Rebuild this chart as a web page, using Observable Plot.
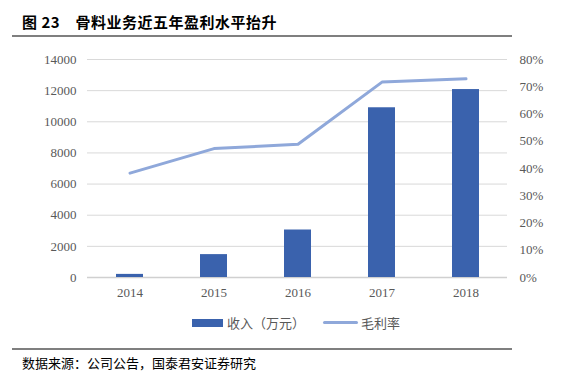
<!DOCTYPE html>
<html><head><meta charset="utf-8">
<script src="https://cdn.jsdelivr.net/npm/d3@7"></script>
<script src="https://cdn.jsdelivr.net/npm/@observablehq/plot@0.6"></script>
<style>
body{margin:0;background:#fff;width:585px;height:377px;position:relative;overflow:hidden;font-family:"Noto Sans CJK SC",sans-serif;}
#title{position:absolute;left:22px;top:11px;font-size:15px;font-weight:bold;color:#000;letter-spacing:0.5px;}
#tline{position:absolute;left:12px;top:35px;width:500px;height:2px;background:#7f7f7f;}
#chart{position:absolute;left:0;top:40px;}
#legend{position:absolute;top:313px;left:0;width:585px;font-size:13px;color:#595959;}
.sw{position:absolute;}
#fline{position:absolute;left:12px;top:348px;width:500px;height:2px;background:#7f7f7f;}
#foot{position:absolute;left:22px;top:353px;font-size:13px;color:#000;}
</style></head><body>
<div id="title">图 23　骨料业务近五年盈利水平抬升</div>
<div id="tline"></div>
<div id="chart"></div>
<div id="legend">
  <div class="sw" style="left:192px;top:6px;width:31px;height:8px;background:#3a62ad"></div>
  <div class="sw" style="left:227px;top:0px">收入（万元）</div>
  <div class="sw" style="left:323px;top:8px;width:35px;height:3px;border-radius:2px;background:#8fa8da"></div>
  <div class="sw" style="left:361px;top:0px">毛利率</div>
</div>
<div id="fline"></div>
<div id="foot">数据来源：公司公告，国泰君安证券研究</div>
<script>
const years = ["2014","2015","2016","2017","2018"];
const revenue = [200, 1470, 3050, 10900, 12070];
const margin = [38.3, 47.3, 48.9, 71.7, 72.9];
const leftTicks = [0,2000,4000,6000,8000,10000,12000,14000];
const rightTicks = [0,10,20,30,40,50,60,70,80];
const leftMax = 14000, rightMax = 80;
const k = leftMax / rightMax;

const rows = years.map((y,i)=>({year:y, revenue:revenue[i], margin:margin[i]*k}));
const font = "Liberation Serif";
const chart = Plot.plot({
  width:585, height:297,
  marginLeft:87, marginRight:78, marginTop:19, marginBottom:60,
  style:{fontFamily:font, fontSize:"13px", color:"#595959", background:"transparent"},
  x:{domain:years, paddingInner:0.68, paddingOuter:0.34},
  y:{domain:[0,leftMax]},
  marks:[
    Plot.ruleY(leftTicks.filter(d=>d>0), {stroke:"#d9d9d9", strokeWidth:1}),
    Plot.ruleY([0], {stroke:"#d0d0d0", strokeWidth:1.5}),
    Plot.barY(rows, {x:"year", y:"revenue", fill:"#3a62ad"}),
    Plot.line(rows, {x:"year", y:"margin", stroke:"#8fa8da", strokeWidth:3, strokeLinecap:"round", strokeLinejoin:"round"}),
    Plot.axisY({ticks:leftTicks, tickSize:0, tickPadding:11, label:null, tickFormat:d=>String(d), fill:"#595959"}),
    Plot.axisY({anchor:"right", ticks:rightTicks.map(p=>p*k), tickSize:0, tickPadding:12, label:null, tickFormat:d=>Math.round(d/k)+"%", textAnchor:"start", fill:"#595959"}),
    Plot.axisX({tickSize:0, tickPadding:10, label:null, fill:"#595959"})
  ]
});
document.getElementById("chart").appendChild(chart);
</script>
</body></html>
